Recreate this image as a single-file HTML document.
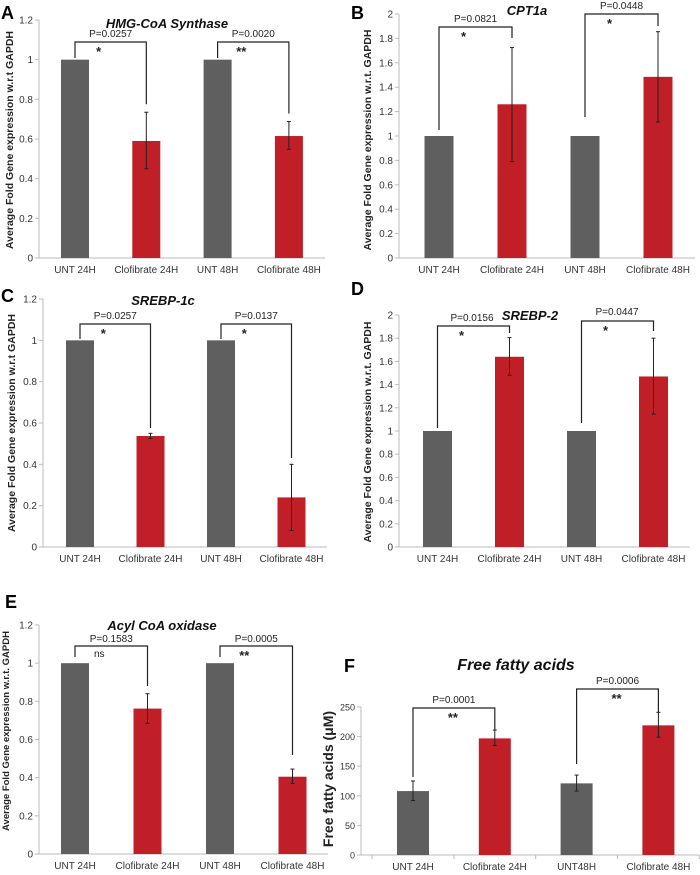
<!DOCTYPE html>
<html><head><meta charset="utf-8"><style>
body{margin:0;background:#fff}
svg{display:block;font-family:"Liberation Sans",Arial,sans-serif}
</style></head><body>
<svg id="fig" width="700" height="875" viewBox="0 0 700 875" xmlns="http://www.w3.org/2000/svg"></svg>
<script>
const categories = ["UNT 24H","Clofibrate 24H","UNT 48H","Clofibrate 48H"];
const categoriesF = ["UNT 24H","Clofibrate 24H","UNT48H","Clofibrate 48H"];
const valuesA = [1, 0.59, 1, 0.615];
const errLoA = [1, 0.45, 1, 0.548];
const errHiA = [1, 0.735, 1, 0.688];
const valuesB = [1, 1.26, 1, 1.485];
const errLoB = [1, 0.79, 1, 1.115];
const errHiB = [1, 1.725, 1, 1.855];
const valuesC = [1, 0.537, 1, 0.24];
const errLoC = [1, 0.525, 1, 0.08];
const errHiC = [1, 0.55, 1, 0.4];
const valuesD = [1, 1.64, 1, 1.47];
const errLoD = [1, 1.48, 1, 1.145];
const errHiD = [1, 1.805, 1, 1.8];
const valuesE = [1, 0.762, 1, 0.405];
const errLoE = [1, 0.685, 1, 0.37];
const errHiE = [1, 0.84, 1, 0.445];
const valuesF = [108, 197, 121, 219];
const errLoF = [92, 185, 108, 199];
const errHiF = [125, 211, 135, 241];
const ticksA = ["0","0.2","0.4","0.6","0.8","1","1.2"];
const ticksB = ["0","0.2","0.4","0.6","0.8","1","1.2","1.4","1.6","1.8","2"];
const ticksF = ["0","50","100","150","200","250"];
const pLabelsA = ["P=0.0257","P=0.0020"], starsA = ["*","**"];
const pLabelsB = ["P=0.0821","P=0.0448"], starsB = ["*","*"];
const pLabelsC = ["P=0.0257","P=0.0137"], starsC = ["*","*"];
const pLabelsD = ["P=0.0156","P=0.0447"], starsD = ["*","*"];
const pLabelsE = ["P=0.1583","P=0.0005"], starsE = ["ns","**"];
const pLabelsF = ["P=0.0001","P=0.0006"], starsF = ["**","**"];

const NS="http://www.w3.org/2000/svg";
const svg=document.getElementById('fig');
function mk(tag,attrs,parent,text){const e=document.createElementNS(NS,tag);for(const k in attrs)e.setAttribute(k,attrs[k]);if(text!==undefined)e.textContent=text;(parent||svg).appendChild(e);return e;}

function panel(o){
  const g=mk('g',{});
  
  
  const y=v=>o.yBot-(v/o.max)*(o.yBot-o.yTop);
  const x=i=>o.cx0+i*o.band;
  const ax=mk('line',{x1:o.x0,y1:o.yTop,x2:o.x0,y2:o.yBot,stroke:'#bbb','stroke-width':1},g);
  
  const bx=mk('line',{x1:o.x0,y1:o.yBot,x2:o.x1,y2:o.yBot,stroke:'#bbb','stroke-width':1},g);
  
  o.ticks.forEach((t,i)=>{
    const v=parseFloat(t), yy=y(v);
    mk('line',{x1:o.x0-4,y1:yy,x2:o.x0,y2:yy,stroke:'#bbb'},g);
    const tl=mk('text',{x:o.x0-6,y:yy+3.5,'text-anchor':'end','font-size':o.tfs||10,fill:'#333'},g,t);
    
  });
  if(o.xticks){for(let i=0;i<=4;i++){const xx=x(i)-o.band/2;mk('line',{x1:xx,y1:o.yBot,x2:xx,y2:o.yBot+4,stroke:'#bbb'},g);}}
  o.vals.forEach((v,i)=>{
    const b=mk('rect',{x:x(i)-o.bw/2,y:y(v),width:o.bw,height:o.yBot-y(v),fill:i%2?'#c01f28':'#5f5f5f'},g);
    
    if(o.hi[i]!==o.lo[i]){
      mk('line',{x1:x(i),y1:y(o.hi[i]),x2:x(i),y2:y(o.lo[i]),stroke:'#222','stroke-width':1},g);
      mk('line',{x1:x(i)-2,y1:y(o.hi[i]),x2:x(i)+2,y2:y(o.hi[i]),stroke:'#222'},g);
      mk('line',{x1:x(i)-2,y1:y(o.lo[i]),x2:x(i)+2,y2:y(o.lo[i]),stroke:'#222'},g);
    }
    const xl=mk('text',{x:x(i),y:o.labY,'text-anchor':'middle','font-size':o.xfs||10,fill:'#333'},g,o.cats[i]);
    
  });
  [0,1].forEach(k=>{
    const a=2*k,b=2*k+1, by=o.br[k];
    const la=o.lleg?o.lleg[k]:y(o.hi[a])-2;
    const rb=o.rleg?o.rleg[k]:y(o.hi[b])-8;
    const p=mk('path',{d:`M${x(a)},${la}V${by}H${x(b)}V${rb}`,fill:'none',stroke:'#222','stroke-width':1.2},g);
    
    const mx=(x(a)+x(b))/2;
    const pl=mk('text',{x:o.px?o.px[k]:mx,y:o.py?o.py[k]:by-5,'text-anchor':'middle','font-size':o.pfs||10,fill:'#222'},g,o.pl[k]);
    
    const st=o.st[k];
    const s=mk('text',{x:mx-(o.sdx||12),y:by+(st==='ns'?11:14),'text-anchor':'middle','font-size':st==='ns'?10:13,'font-weight':st==='ns'?'normal':'bold',fill:'#222'},g,st);
    
  });
  const t=mk('text',{x:o.tx,y:o.ty,'text-anchor':'middle','font-size':o.tfz||13,'font-weight':'bold','font-style':'italic',fill:'#111'},g,o.title);
  
  const yt=mk('text',{x:o.ytx,y:o.yty,'text-anchor':'middle','font-size':o.ytfs||10.5,'font-weight':'bold',fill:'#222',transform:`rotate(-90 ${o.ytx} ${o.yty})`},g,o.ytitle);
  
  const L=mk('text',{x:o.lx,y:o.ly,'font-size':18,'font-weight':'bold',fill:'#000'},g,o.id);
  
}
const YT="Average Fold Gene expression w.r.t GAPDH", YT2="Average Fold Gene expression w.r.t. GAPDH";
panel({id:'A',x0:39,x1:325,yTop:20,yBot:258,max:1.2,cx0:75,band:71.3,bw:28,ticks:ticksA,vals:valuesA,lo:errLoA,hi:errHiA,cats:categories,labY:273,
  br:[42,42],lleg:[58,58],pl:pLabelsA,st:starsA,title:'HMG-CoA Synthase',tx:167,ty:28,ytitle:YT,ytx:13,yty:140,lx:1,ly:19});
panel({id:'B',x0:399,x1:695,yTop:14,yBot:258,max:2,cx0:439,band:73,bw:29,ticks:ticksB,vals:valuesB,lo:errLoB,hi:errHiB,cats:categories,labY:273,
  br:[27,14],lleg:[130,117],rleg:[38,26],pl:pLabelsB,st:starsB,title:'CPT1a',tx:527,ty:15,ytitle:YT2,ytx:371,yty:140,lx:351,ly:19});
panel({id:'C',x0:43,x1:327,yTop:299,yBot:547,max:1.2,cx0:80,band:70.5,bw:28,ticks:ticksA,vals:valuesC,lo:errLoC,hi:errHiC,cats:categories,labY:562,
  br:[324,324],lleg:[339,339],rleg:[428,458],pl:pLabelsC,st:starsC,title:'SREBP-1c',tx:163,ty:305,ytitle:YT,ytx:15,yty:423,lx:1,ly:302});
panel({id:'D',x0:399,x1:690,yTop:315,yBot:547,max:2,cx0:437.5,band:72,bw:29,ticks:ticksB,vals:valuesD,lo:errLoD,hi:errHiD,cats:categories,labY:562,
  br:[326,321],lleg:[428,423],rleg:[333,331],px:[472,617],py:[321,315],pl:pLabelsD,st:starsD,title:'SREBP-2',tx:530,ty:320,ytitle:YT2,ytx:371,yty:432,lx:351,ly:295});
panel({id:'E',x0:39,x1:328,yTop:625,yBot:854,max:1.2,cx0:75,band:72.5,bw:28,ticks:ticksA,vals:valuesE,lo:errLoE,hi:errHiE,cats:categories,labY:869,
  br:[646,646],lleg:[657,657],rleg:[686,755],py:[642,642],pl:pLabelsE,st:starsE,sdx:0,title:'Acyl CoA oxidase',tx:162,ty:630,ytitle:YT2,ytx:9,yty:731,ytfs:9.5,lx:5,ly:608});
panel({id:'F',x0:361,x1:699,yTop:707,yBot:855,max:250,cx0:413,band:81.8,bw:32,ticks:ticksF,tfs:9,vals:valuesF,lo:errLoF,hi:errHiF,cats:categoriesF,labY:870,xticks:true,
  br:[708,689],lleg:[777,764],rleg:[730,712],py:[703,684],pl:pLabelsF,st:starsF,sdx:1,title:'Free fatty acids',tx:516,ty:670,tfz:16,ytitle:'Free fatty acids (\u03bcM)',ytx:333,yty:779,ytfs:14,lx:344,ly:672});
</script>
</body></html>
